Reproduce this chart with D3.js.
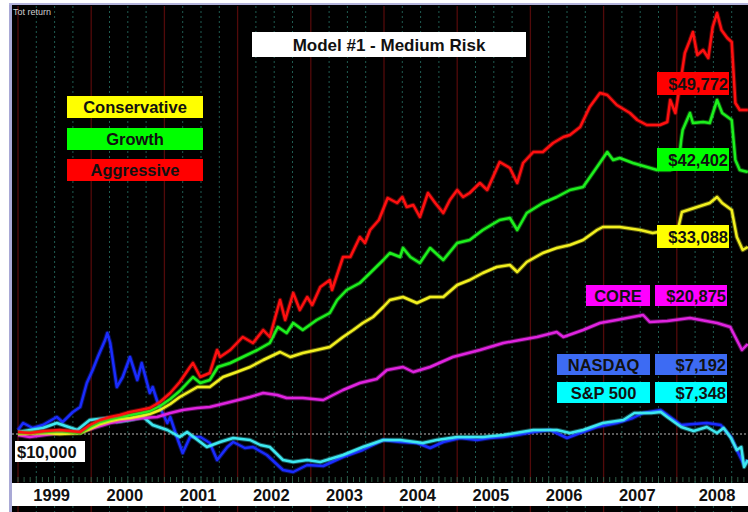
<!DOCTYPE html>
<html><head><meta charset="utf-8">
<script src="https://cdn.jsdelivr.net/npm/d3@7"></script>
<style>
html,body{margin:0;padding:0;background:#fff;}
svg{display:block;}
text{font-family:"Liberation Sans",Arial,sans-serif;}
</style></head><body>
<svg id="chart" width="748" height="512"></svg>
<script>
// ---------- DATA ----------
const years = [1999, 2000, 2001, 2002, 2003, 2004, 2005, 2006, 2007, 2008];

const aggressive = [[1999.00,10250],[1999.16,10125],[1999.37,10375],[1999.57,10500],[1999.85,10250],[1999.98,11125],[2000.12,11750],[2000.26,12125],[2000.39,12375],[2000.53,12750],[2000.67,13000],[2000.80,13250],[2000.94,14000],[2001.08,15125],[2001.21,16500],[2001.35,18375],[2001.39,18875],[2001.49,17125],[2001.62,17625],[2001.72,20500],[2001.76,19625],[2001.90,20500],[2002.07,22125],[2002.21,21375],[2002.35,23000],[2002.44,22125],[2002.58,26750],[2002.65,24250],[2002.76,27625],[2002.85,25500],[2002.95,27125],[2003.02,26125],[2003.13,28375],[2003.26,29250],[2003.29,28000],[2003.44,32125],[2003.54,32125],[2003.67,34625],[2003.74,33875],[2003.81,35500],[2003.93,36750],[2004.05,39500],[2004.18,38875],[2004.25,39625],[2004.31,38375],[2004.40,38625],[2004.49,37125],[2004.60,40125],[2004.70,38875],[2004.81,37625],[2004.90,39250],[2005.00,40500],[2005.08,39625],[2005.17,40125],[2005.31,41375],[2005.41,40500],[2005.58,44000],[2005.72,43250],[2005.82,41375],[2005.90,43875],[2006.04,45250],[2006.17,45250],[2006.31,46375],[2006.45,47125],[2006.54,47375],[2006.68,48375],[2006.81,50875],[2006.95,52625],[2007.05,52375],[2007.18,51125],[2007.36,50125],[2007.46,49250],[2007.59,48625],[2007.77,48625],[2007.87,49000],[2007.91,51750],[2007.98,50125],[2008.04,53375],[2008.11,57625],[2008.18,59250],[2008.22,60250],[2008.28,57375],[2008.36,58000],[2008.43,57000],[2008.49,60875],[2008.55,62625],[2008.61,60500],[2008.69,59500],[2008.75,59000],[2008.80,51375],[2008.86,50500],[2008.97,50500]];

const growth = [[1999.00,10125],[1999.37,10250],[1999.57,10375],[1999.85,10125],[1999.98,10875],[2000.12,11500],[2000.26,11875],[2000.39,12125],[2000.53,12375],[2000.67,12625],[2000.80,12875],[2000.94,13500],[2001.08,14375],[2001.21,15375],[2001.39,17125],[2001.49,16375],[2001.62,16750],[2001.73,18375],[2001.90,18875],[2002.07,19625],[2002.27,20500],[2002.44,21375],[2002.55,23375],[2002.67,22625],[2002.76,23875],[2002.89,23000],[2003.08,24250],[2003.26,25125],[2003.36,26750],[2003.49,28000],[2003.67,28875],[2003.81,30125],[2003.99,31750],[2004.08,32625],[2004.22,32125],[2004.26,33250],[2004.36,32125],[2004.49,31375],[2004.63,33250],[2004.81,31750],[2005.00,33875],[2005.17,34250],[2005.35,35500],[2005.58,36750],[2005.72,37000],[2005.82,35500],[2005.95,37625],[2006.17,38875],[2006.36,39625],[2006.54,40500],[2006.72,40875],[2006.91,43375],[2007.05,45250],[2007.13,44250],[2007.22,44500],[2007.40,43875],[2007.59,43375],[2007.73,43000],[2007.91,43000],[2008.02,43375],[2008.06,46750],[2008.08,48000],[2008.18,50125],[2008.22,48875],[2008.36,49000],[2008.45,48875],[2008.55,51750],[2008.62,50125],[2008.75,49250],[2008.80,44250],[2008.86,43000],[2008.97,42750]];

const conservative = [[1999.00,10000],[1999.37,10125],[1999.57,10000],[1999.85,10125],[1999.98,10625],[2000.12,11250],[2000.26,11625],[2000.39,11875],[2000.53,12000],[2000.67,12250],[2000.80,12500],[2000.94,13000],[2001.08,13750],[2001.21,14625],[2001.45,15875],[2001.62,15875],[2001.80,17125],[2001.99,17750],[2002.17,18375],[2002.35,19250],[2002.58,20250],[2002.72,19625],[2002.89,20125],[2003.08,20500],[2003.26,20875],[2003.44,22125],[2003.58,23000],[2003.71,23875],[2003.85,24625],[2003.99,25875],[2004.08,26750],[2004.26,27125],[2004.45,26375],[2004.63,27125],[2004.81,27125],[2005.00,28625],[2005.17,29250],[2005.35,30125],[2005.54,30875],[2005.72,31125],[2005.82,30250],[2005.95,31500],[2006.17,32625],[2006.36,33250],[2006.54,33625],[2006.72,34250],[2006.91,35500],[2006.99,35875],[2007.22,35875],[2007.50,35500],[2007.67,35125],[2007.91,35500],[2008.02,35750],[2008.07,37750],[2008.28,38375],[2008.45,38875],[2008.55,39625],[2008.62,38875],[2008.75,38000],[2008.82,34625],[2008.90,33000],[2008.97,33375]];

const core = [[1999.00,9875],[1999.16,9625],[1999.57,10125],[1999.85,10250],[2000.26,11375],[2000.49,11750],[2000.71,12000],[2000.90,12125],[2001.08,12625],[2001.25,13000],[2001.45,13250],[2001.62,13375],[2001.90,14000],[2002.17,14625],[2002.35,15125],[2002.54,14875],[2002.67,14500],[2002.89,14500],[2003.17,14250],[2003.44,15500],[2003.67,16375],[2003.90,16875],[2004.04,18000],[2004.26,18375],[2004.40,17750],[2004.63,18375],[2004.94,19625],[2005.31,20500],[2005.63,21375],[2005.86,21750],[2006.09,22125],[2006.36,22750],[2006.45,22125],[2006.72,23000],[2006.95,23875],[2007.18,24250],[2007.54,24875],[2007.63,24000],[2007.87,24125],[2008.18,24500],[2008.55,23875],[2008.73,23375],[2008.82,21750],[2008.89,20500],[2008.97,21250]];

const nasdaq = [[1999.00,10500],[1999.07,11375],[1999.20,10750],[1999.34,11125],[1999.53,12125],[1999.61,11500],[1999.75,12750],[1999.85,13375],[1999.94,16375],[2000.02,18000],[2000.09,19625],[2000.19,21750],[2000.22,22625],[2000.26,21375],[2000.35,15875],[2000.43,17125],[2000.53,19625],[2000.63,16750],[2000.69,18875],[2000.80,15125],[2000.84,15875],[2000.91,13875],[2001.04,11375],[2001.08,12125],[2001.17,9625],[2001.25,7625],[2001.35,9625],[2001.49,9625],[2001.62,8875],[2001.72,6750],[2001.86,8375],[2001.94,9000],[2002.10,8250],[2002.21,8375],[2002.40,7375],[2002.62,5500],[2002.76,5250],[2002.95,6125],[2003.17,6000],[2003.44,7125],[2003.71,8000],[2003.99,9250],[2004.22,9000],[2004.45,8875],[2004.63,8250],[2004.81,9000],[2005.04,9500],[2005.27,9250],[2005.45,9500],[2005.63,9625],[2005.82,9875],[2006.04,10250],[2006.27,10500],[2006.50,9500],[2006.68,10125],[2006.91,10875],[2007.18,11375],[2007.40,12000],[2007.54,12625],[2007.78,13000],[2008.06,11125],[2008.41,11375],[2008.60,11125],[2008.74,9625],[2008.82,8000],[2008.92,6125],[2008.97,6750]];

const sp500 = [[1999.00,10250],[1999.34,10750],[1999.53,11375],[1999.81,10500],[1999.98,11750],[2000.22,12000],[2000.35,11500],[2000.53,11750],[2000.71,12125],[2000.84,11125],[2001.04,10500],[2001.21,9625],[2001.31,10250],[2001.58,8375],[2001.76,9000],[2001.94,9500],[2002.17,9250],[2002.31,8625],[2002.44,8375],[2002.62,6750],[2002.76,6500],[2002.95,6750],[2003.13,6500],[2003.44,7375],[2003.71,8375],[2003.99,9250],[2004.22,9250],[2004.53,8875],[2004.72,9250],[2005.00,9625],[2005.35,9625],[2005.63,9875],[2006.04,10500],[2006.36,10500],[2006.54,10125],[2006.72,10500],[2006.99,11375],[2007.27,11750],[2007.42,12625],[2007.65,12625],[2007.78,12750],[2007.87,12125],[2008.06,10875],[2008.23,10375],[2008.41,10875],[2008.55,10125],[2008.64,10750],[2008.74,9500],[2008.82,8000],[2008.88,8375],[2008.92,5875],[2008.97,6750]];

const legendNames = ["Conservative", "Growth", "Aggressive"];
const endValueLabels = ["$49,772", "$42,402", "$33,088"];
const indexNames = ["CORE", "NASDAQ", "S&P 500"];
const indexValueLabels = ["$20,875", "$7,192", "$7,348"];
const baseLabel = "$10,000";
const baseValue = 10000;
const titleText = "Model #1 - Medium Risk";

// ---------- CHART ----------
const svg = d3.select("#chart");
const L = 12, R = 748, T = 5, B = 483;
const x = d3.scaleLinear().domain([1999, 2009]).range([18, 750]);
const y = d3.scaleLinear().domain([4000, 63625]).range([482, 5]);

// frame
svg.append("rect").attr("x", L).attr("y", T).attr("width", R - L).attr("height", 512 - T).attr("fill", "#000");
svg.append("rect").attr("x", 9).attr("y", 3).attr("width", 3).attr("height", 509).attr("fill", "#a9a9d6");
svg.append("rect").attr("x", 9).attr("y", 3).attr("width", R - 9).attr("height", 2).attr("fill", "#b4b4dc");

// grid: quarter dotted lines and year lines
const quarters = [];
years.forEach(yr => [0.25, 0.5, 0.75].forEach(q => quarters.push(yr + q)));
svg.append("g").selectAll("line").data(quarters).join("line")
  .attr("x1", d => x(d)).attr("x2", d => x(d)).attr("y1", T + 1).attr("y2", 512)
  .attr("stroke", "#1f5c52").attr("stroke-width", 1).attr("stroke-dasharray", "2,3");
svg.append("g").selectAll("line").data(years.concat([2009])).join("line")
  .attr("x1", d => x(d)).attr("x2", d => x(d)).attr("y1", T + 1).attr("y2", 512)
  .attr("stroke", "#520a0a").attr("stroke-width", 1.3);

// monthly small ticks near bottom
const months = d3.range(1999, 2009, 1 / 12);
svg.append("g").selectAll("line").data(months).join("line")
  .attr("x1", d => x(d)).attr("x2", d => x(d)).attr("y1", 477).attr("y2", 482)
  .attr("stroke", "#2d5a44").attr("stroke-width", 1);

// baseline dashed
svg.append("line").attr("x1", L).attr("x2", R).attr("y1", y(baseValue)).attr("y2", y(baseValue))
  .attr("stroke", "#bdbdbd").attr("stroke-width", 1).attr("stroke-dasharray", "2,2");

// clip
svg.append("clipPath").attr("id", "plotclip").append("rect")
  .attr("x", L).attr("y", T + 1).attr("width", R - L).attr("height", B - T - 1);

const line = d3.line().x(d => x(d[0])).y(d => y(d[1])).curve(d3.curveLinear);
const seriesList = [
  { data: nasdaq, color: "#1a2cff" },
  { data: sp500, color: "#3ee8f0" },
  { data: core, color: "#e024e0" },
  { data: conservative, color: "#f2f020" },
  { data: growth, color: "#1ef01e" },
  { data: aggressive, color: "#ff1010" }
];
const lg = svg.append("g").attr("clip-path", "url(#plotclip)");
seriesList.forEach(s => {
  lg.append("path").datum(s.data).attr("d", line).attr("fill", "none")
    .attr("stroke", s.color).attr("stroke-opacity", 0.35).attr("stroke-width", 4.5).attr("stroke-linejoin", "round");
  lg.append("path").datum(s.data).attr("d", line).attr("fill", "none")
    .attr("stroke", s.color).attr("stroke-width", 2.5).attr("stroke-linejoin", "round");
});

// x axis white band with year labels
svg.append("rect").attr("x", L).attr("y", B).attr("width", R - L).attr("height", 23).attr("fill", "#fff");
svg.append("g").selectAll("text").data(years).join("text")
  .attr("x", d => d === 2008 ? x(d + 0.55) : x(d + 0.46))
  .attr("y", 501).attr("text-anchor", "middle")
  .attr("font-size", 16.5).attr("font-weight", "bold").attr("fill", "#111")
  .text(d => d);

// "Tot return"
svg.append("text").attr("x", 13).attr("y", 15).attr("font-size", 9).attr("fill", "#cfcfcf").text("Tot return");

// boxed label helper
function box(x0, y0, w, h, fill, label, anchor) {
  svg.append("rect").attr("x", x0).attr("y", y0).attr("width", w).attr("height", h).attr("fill", fill);
  const tx = anchor === "end" ? x0 + w - 1 : anchor === "start" ? x0 + 2 : x0 + w / 2;
  svg.append("text").attr("x", tx).attr("y", y0 + h / 2 + 6).attr("text-anchor", anchor)
    .attr("font-size", 16.5).attr("font-weight", "bold").attr("fill", "#111").text(label);
}

// title
svg.append("rect").attr("x", 252).attr("y", 32).attr("width", 274).attr("height", 25).attr("fill", "#fff");
svg.append("text").attr("x", 389).attr("y", 51).attr("text-anchor", "middle")
  .attr("font-size", 17).attr("font-weight", "bold").attr("fill", "#111").text(titleText);

// legend
const legendColors = ["#ffff00", "#00ff00", "#ff0000"];
const legendY = [96, 128, 159];
legendNames.forEach((n, i) => box(67, legendY[i], 136, 22, legendColors[i], n, "middle"));

// end value labels
const endColors = ["#ff0000", "#00ff00", "#ffff00"];
const endY = [72, 148, 225];
endValueLabels.forEach((t, i) => box(657, endY[i], 72, 23, endColors[i], t, "end"));

// index labels
const idxColors = ["#ff00ff", "#3d6bf3", "#00ffff"];
const idxY = [285, 354, 382];
const idxX = [586, 557, 557];
indexNames.forEach((n, i) => {
  box(idxX[i], idxY[i], 650 - idxX[i], 21, idxColors[i], n, "middle");
  box(655, idxY[i], 72, 21, idxColors[i], indexValueLabels[i], "end");
});

// base label
box(15, 441, 70, 21, "#ffffff", baseLabel, "start");
</script>
</body></html>
